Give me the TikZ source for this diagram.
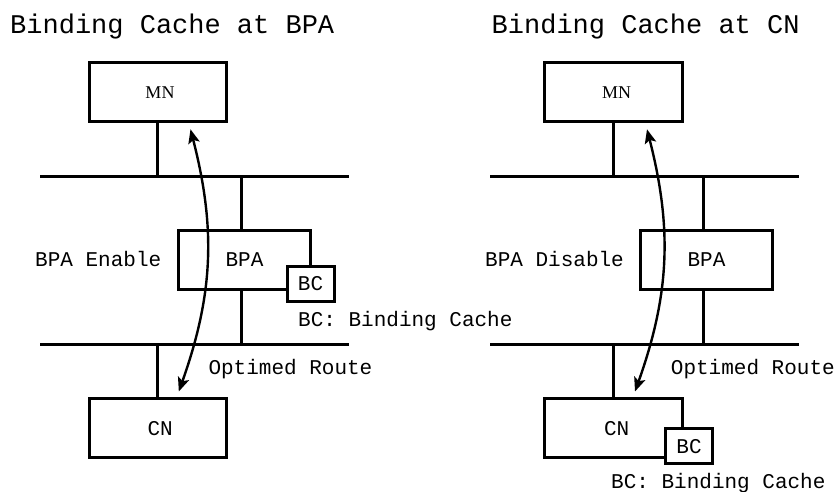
\documentclass[tikz,border=0pt]{standalone}
\usepackage{fontspec}
\newfontfamily\monof{Liberation Mono}
\newfontfamily\seriff{Liberation Serif}
\usetikzlibrary{arrows.meta}
\tikzset{
  box/.style={draw=black, line width=3pt, fill=white, inner sep=0pt,
    font=\monof\fontsize{21pt}{21pt}\selectfont},
  bigbox/.style={box, minimum width=137pt, minimum height=59pt},
  midbox/.style={box, minimum width=131.5pt, minimum height=59pt},
  bcbox/.style={box, minimum width=47pt, minimum height=35pt},
  wire/.style={line width=3pt, line cap=rect},
  lab/.style={inner sep=0pt, anchor=base west, font=\monof\fontsize{21pt}{21pt}\selectfont},
  ttl/.style={inner sep=0pt, anchor=base west, font=\monof\fontsize{27pt}{27pt}\selectfont},
  mnlab/.style={inner sep=0pt, font=\seriff\fontsize{18pt}{18pt}\selectfont},
  route/.style={line width=2.4pt, {Stealth[length=14pt,width=11.5pt,inset=3pt]}-{Stealth[length=14pt,width=11.5pt,inset=3pt]}}
}
\begin{document}
\begin{tikzpicture}[x=1pt,y=-1pt]
\useasboundingbox (0,0) rectangle (835,491);
% ---------- left panel ----------
\node[ttl] (tL) at (10,33.3) {Binding Cache at BPA};
\coordinate (b1La) at (41,176.2);
\coordinate (b1Lb) at (347,176.2);
\coordinate (b2La) at (41,344.3);
\coordinate (b2Lb) at (347,344.3);
\node[bigbox] (mnL) at (157.7,92.2) {};
\node[mnlab] (mnLt) at (160,93) {MN};
\node[midbox] (bpaL) at (244.5,260) {BPA};
\node[bcbox] (bcL) at (310.5,284) {BC};
\node[bigbox] (cnL) at (157.7,428.3) {};
\node[inner sep=0pt, font=\monof\fontsize{21pt}{21pt}\selectfont] (cnLt) at (160.2,428.8) {CN};
\draw[wire] (b1La) -- (b1Lb);
\draw[wire] (b2La) -- (b2Lb);
\draw[wire] (mnL.south) -- (mnL.south |- b1La);
\draw[wire] ([xshift=-3.2pt]bpaL.north |- b1La) -- ([xshift=-3.2pt]bpaL.north);
\draw[wire] ([xshift=-3.2pt]bpaL.south) -- ([xshift=-3.2pt]bpaL.south |- b2La);
\draw[wire] (cnL.north |- b2La) -- (cnL.north);
\node[lab] (enL) at (35,266.7) {BPA Enable};
\node[lab] (bcdL) at (298,326.7) {BC: Binding Cache};
\node[lab] (orL) at (208.3,374.3) {Optimed Route};
\coordinate (aLt) at (190.5,129.3);
\coordinate (aLb) at (178.8,391.5);
\draw[route] (aLt) to[bend left=17] (aLb);
% ---------- right panel ----------
\node[ttl] (tR) at (491.5,33.3) {Binding Cache at CN};
\coordinate (b1Ra) at (491,176.2);
\coordinate (b1Rb) at (797,176.2);
\coordinate (b2Ra) at (491,344.3);
\coordinate (b2Rb) at (797,344.3);
\node[bigbox, minimum width=138pt] (mnR) at (613.8,92.2) {};
\node[mnlab] (mnRt) at (616.7,93) {MN};
\node[midbox] (bpaR) at (706.5,260) {BPA};
\node[bigbox, minimum width=138pt] (cnR) at (613.8,428.3) {};
\node[inner sep=0pt, font=\monof\fontsize{21pt}{21pt}\selectfont] (cnRt) at (616.7,428.8) {CN};
\node[bcbox] (bcR) at (689,446.2) {BC};
\draw[wire] (b1Ra) -- (b1Rb);
\draw[wire] (b2Ra) -- (b2Rb);
\draw[wire] (mnR.south) -- (mnR.south |- b1Ra);
\draw[wire] ([xshift=-2.8pt]bpaR.north |- b1Ra) -- ([xshift=-2.8pt]bpaR.north);
\draw[wire] ([xshift=-2.8pt]bpaR.south) -- ([xshift=-2.8pt]bpaR.south |- b2Ra);
\draw[wire] (cnR.north |- b2Ra) -- (cnR.north);
\node[lab] (disR) at (485,266.7) {BPA Disable};
\node[lab] (orR) at (670.7,374.3) {Optimed Route};
\node[lab] (bcdR) at (611,488.3) {BC: Binding Cache};
\coordinate (aRt) at (647,129.3);
\coordinate (aRb) at (635,391.5);
\draw[route] (aRt) to[bend left=17] (aRb);
\end{tikzpicture}
\end{document}
